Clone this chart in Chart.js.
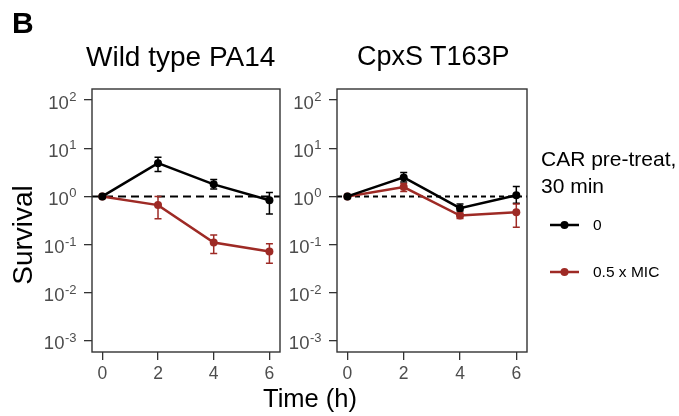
<!DOCTYPE html>
<html>
<head>
<meta charset="utf-8">
<script src="https://cdn.jsdelivr.net/npm/chart.js@4/dist/chart.umd.min.js"></script>
<style>
  body { margin: 0; background: #fff; font-family: 'Liberation Sans', Arial, sans-serif; }
  #wrap { position: relative; width: 679px; height: 416px; overflow: hidden; }
  canvas { position: absolute; top: 0; }
  .txt { position: absolute; white-space: nowrap; color: #000; line-height: 1; }
</style>
</head>
<body>
<div id="wrap">
  <canvas id="chart-wt" width="290" height="416" style="left:0"></canvas>
  <canvas id="chart-cpx" width="260" height="416" style="left:285px"></canvas>

  <div class="txt" style="left:12px;top:8px;font-size:30px;font-weight:bold">B</div>
  <div class="txt" style="left:86px;top:43px;font-size:28px">Wild type PA14</div>
  <div class="txt" style="left:357px;top:43px;font-size:27px">CpxS T163P</div>
  <div class="txt" style="left:-37px;top:221px;font-size:28px;line-height:28px;width:120px;text-align:center;transform:rotate(-90deg)">Survival</div>
  <div class="txt" style="left:263px;top:386px;font-size:25.5px">Time (h)</div>

  <div class="txt" style="left:541px;top:146px;font-size:21px;line-height:26.6px">CAR pre-treat,<br>30 min</div>
  <div class="txt" style="left:593px;top:217px;font-size:15.5px">0</div>
  <div class="txt" style="left:593px;top:264px;font-size:15.5px">0.5 x MIC</div>
  <canvas id="legend-keys" width="40" height="80" style="left:545px;top:205px"></canvas>
</div>

<script>
// ── Data ────────────────────────────────────────────────
const TIMES = [0, 2, 4, 6];
const Y_TICKS = [1e-3, 1e-2, 1e-1, 1e0, 1e1, 1e2];
const Y_EXPONENTS = ["-3", "-2", "-1", "0", "1", "2"];
const X_TICKS = [0, 2, 4, 6];

const SERIES_LABELS = ["0", "0.5 x MIC"];
const COLOR_CTRL = "#000000";
const COLOR_MIC = "#9e2a25";

// Wild type PA14
const WT_CTRL = [1, 4.9, 1.78, 0.83];
const WT_CTRL_LO = [1, 3.3, 1.42, 0.43];
const WT_CTRL_HI = [1, 6.5, 2.25, 1.21];
const WT_MIC = [1, 0.66, 0.11, 0.072];
const WT_MIC_LO = [1, 0.345, 0.065, 0.041];
const WT_MIC_HI = [1, 1.0, 0.158, 0.104];

// CpxS T163P
const CPX_CTRL = [1, 2.48, 0.57, 1.06];
const CPX_CTRL_LO = [1, 2.0, 0.5, 0.72];
const CPX_CTRL_HI = [1, 3.15, 0.70, 1.61];
const CPX_MIC = [1, 1.56, 0.40, 0.47];
const CPX_MIC_LO = [1, 1.27, 0.35, 0.23];
const CPX_MIC_HI = [1, 1.86, 0.45, 0.70];

const FONT = "'Liberation Sans', Arial, sans-serif";
const AXIS_GREY = "#333333";
const LABEL_GREY = "#4d4d4d";

// ── Plugins ─────────────────────────────────────────────
const errorBarPlugin = {
  id: 'errorBars',
  afterDatasetsDraw(chart) {
    const { ctx, scales: { x, y } } = chart;
    chart.data.datasets.forEach(ds => {
      if (!ds.lo) return;
      ctx.save();
      ctx.strokeStyle = ds.borderColor;
      ctx.lineWidth = 1.5;
      ds.data.forEach((p, i) => {
        const px = x.getPixelForValue(p.x);
        const top = y.getPixelForValue(ds.hi[i]);
        const bot = y.getPixelForValue(ds.lo[i]);
        if (Math.abs(bot - top) < 1) return;
        ctx.beginPath();
        ctx.moveTo(px, top); ctx.lineTo(px, bot);
        ctx.moveTo(px - 3.5, top); ctx.lineTo(px + 3.5, top);
        ctx.moveTo(px - 3.5, bot); ctx.lineTo(px + 3.5, bot);
        ctx.stroke();
      });
      ctx.restore();
    });
  }
};

const refLinePlugin = {
  id: 'refLine',
  beforeDatasetsDraw(chart, args, opts) {
    const { ctx, chartArea: a, scales: { y } } = chart;
    const py = y.getPixelForValue(1);
    ctx.save();
    ctx.strokeStyle = "#000";
    ctx.lineWidth = 2;
    ctx.setLineDash(opts.dash || [8, 5]);
    ctx.beginPath();
    ctx.moveTo(a.left, py); ctx.lineTo(a.right, py);
    ctx.stroke();
    ctx.restore();
  }
};

const frameLabelPlugin = {
  id: 'frameLabels',
  afterDraw(chart) {
    const { ctx, chartArea: a, scales: { x, y } } = chart;
    ctx.save();
    ctx.strokeStyle = AXIS_GREY;
    ctx.lineWidth = 1.4;
    ctx.strokeRect(a.left, a.top, a.right - a.left, a.bottom - a.top);

    ctx.fillStyle = LABEL_GREY;
    // y labels: "10" with a superscript exponent
    Y_TICKS.forEach((v, i) => {
      const py = y.getPixelForValue(v);
      const exp = Y_EXPONENTS[i];
      ctx.font = "13px " + FONT;
      const ew = ctx.measureText(exp).width;
      const right = a.left - 15.5;
      ctx.textAlign = "left";
      ctx.textBaseline = "alphabetic";
      ctx.fillText(exp, right - ew, py + 1);
      ctx.font = "18.5px " + FONT;
      ctx.textAlign = "right";
      ctx.fillText("10", right - ew - 0.5, py + 8.5);
    });
    // x labels
    ctx.font = "17.5px " + FONT;
    ctx.textAlign = "center";
    ctx.textBaseline = "alphabetic";
    X_TICKS.forEach(v => {
      ctx.fillText(String(v), x.getPixelForValue(v), 379);
    });
    ctx.restore();
  }
};

function buildDatasets(ctrl, ctrlLo, ctrlHi, mic, micLo, micHi) {
  const mk = (vals, lo, hi, color, label) => ({
    label,
    data: TIMES.map((t, i) => ({ x: t, y: vals[i] })),
    lo, hi,
    borderColor: color,
    backgroundColor: color,
    borderWidth: 2.5,
    pointRadius: 4,
    pointBorderWidth: 0,
    showLine: true,
    tension: 0
  });
  return [
    mk(ctrl, ctrlLo, ctrlHi, COLOR_CTRL, SERIES_LABELS[0]),
    mk(mic, micLo, micHi, COLOR_MIC, SERIES_LABELS[1])
  ];
}

function makeChart(id, datasets, padding, dash) {
  return new Chart(document.getElementById(id), {
    type: 'scatter',
    data: { datasets },
    plugins: [refLinePlugin, errorBarPlugin, frameLabelPlugin],
    options: {
      responsive: false,
      animation: false,
      layout: { padding },
      plugins: {
        legend: { display: false },
        tooltip: { enabled: false },
        refLine: { dash }
      },
      scales: {
        x: {
          type: 'linear',
          min: -0.37,
          max: 6.38,
          afterBuildTicks: s => { s.ticks = X_TICKS.map(v => ({ value: v })); },
          afterFit: s => { s.height = 30; },
          grid: { drawOnChartArea: false, drawTicks: true, tickLength: 8, color: AXIS_GREY, lineWidth: 1.3 },
          border: { display: false },
          ticks: { display: false }
        },
        y: {
          type: 'logarithmic',
          min: Math.pow(10, -3.23),
          max: Math.pow(10, 2.23),
          afterBuildTicks: s => { s.ticks = Y_TICKS.map(v => ({ value: v })); },
          afterFit: s => { s.width = 40; },
          grid: { drawOnChartArea: false, drawTicks: true, tickLength: 8, color: AXIS_GREY, lineWidth: 1.3 },
          border: { display: false },
          ticks: { display: false }
        }
      }
    }
  });
}

makeChart('chart-wt',
  buildDatasets(WT_CTRL, WT_CTRL_LO, WT_CTRL_HI, WT_MIC, WT_MIC_LO, WT_MIC_HI),
  { left: 52, right: 10, top: 89, bottom: 34 }, [8, 5]);

makeChart('chart-cpx',
  buildDatasets(CPX_CTRL, CPX_CTRL_LO, CPX_CTRL_HI, CPX_MIC, CPX_MIC_LO, CPX_MIC_HI),
  { left: 12, right: 18, top: 89, bottom: 34 }, [5, 4]);

// ── Legend keys ─────────────────────────────────────────
(function drawKeys() {
  const ctx = document.getElementById('legend-keys').getContext('2d');
  [[COLOR_CTRL, 20], [COLOR_MIC, 67]].forEach(([c, y]) => {
    ctx.strokeStyle = c;
    ctx.fillStyle = c;
    ctx.lineWidth = 2.5;
    ctx.beginPath();
    ctx.moveTo(5, y); ctx.lineTo(34, y);
    ctx.stroke();
    ctx.beginPath();
    ctx.arc(19.5, y, 4, 0, Math.PI * 2);
    ctx.fill();
  });
})();
</script>
</body>
</html>
